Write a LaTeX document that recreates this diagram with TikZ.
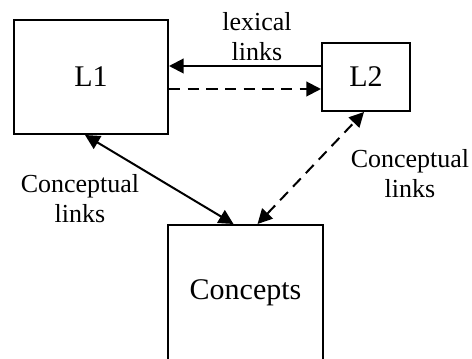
\documentclass[tikz,border=0pt]{standalone}
\usepackage{fontspec}
\setmainfont{Liberation Serif}
\usetikzlibrary{arrows.meta}

\begin{document}
\begin{tikzpicture}[x=0.75pt,y=-0.75pt,
  box/.style={draw, line width=1.5pt, inner sep=0pt, font=\fontsize{22.5}{26}\selectfont},
  lbl/.style={align=center, font=\fontsize{19.5}{22.5}\selectfont},
  link/.style={line width=1.5pt, >={Triangle[length=11pt,width=11pt]}},
  dlink/.style={link, dash pattern=on 8.5pt off 5.5pt}]
\clip (0,0) rectangle (472,359);

% the three stores
\node[box, minimum width=115.5pt, minimum height=85.5pt] (l1) at (91,77) {L1};
\node[box, minimum width=66pt, minimum height=51pt] (l2) at (366,77) {L2};
\node[box, minimum width=116.25pt, minimum height=101.25pt] (con) at (245.5,292.5) {Concepts};

% lexical links
\draw[link,->] ([yshift=8.25pt]l2.west) -- ([yshift=8.25pt]l2.west -| l1.east);
\draw[dlink,->] ([yshift=-9pt]l1.east) -- ([yshift=-9pt]l1.east -| l2.west);
\node[lbl] (lex) at (257,37) {lexical\\links};

% conceptual links
\draw[link,<->] ([xshift=-4.5pt]l1.south) -- ([xshift=-9pt]con.north);
\draw[dlink,<->] ([xshift=9pt]con.north) -- ([xshift=-1.5pt]l2.south);
\node[lbl] (cl) at (80,199) {Conceptual\\links};
\node[lbl] (cr) at (410,174) {Conceptual\\links};
\end{tikzpicture}
\end{document}
